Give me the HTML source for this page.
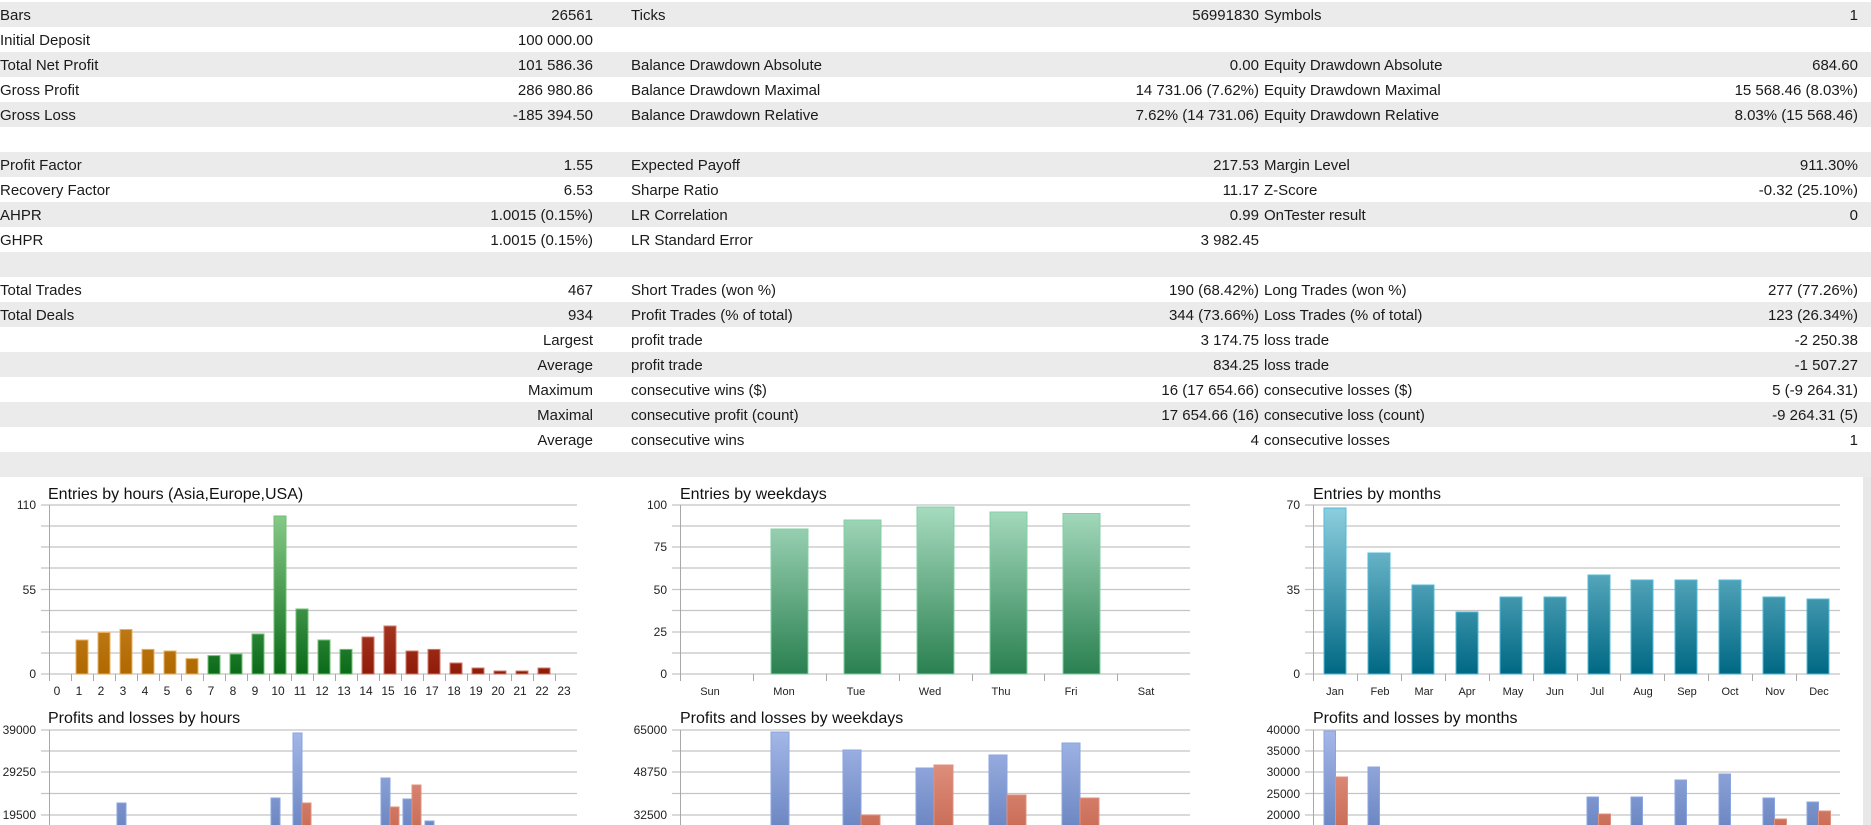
<!DOCTYPE html>
<html><head><meta charset="utf-8"><style>
body{margin:0;width:1871px;height:825px;overflow:hidden;background:#fff;font-family:"Liberation Sans",Arial,sans-serif;position:relative}
.r{position:absolute;left:0;width:1871px;height:25px;font-size:15px;color:#1a1a1a}
.r.g{background:#ebebeb}
.r span{position:absolute;top:5px;white-space:nowrap}
.a{left:0}.b{right:1278px}.c{left:631px}.d{right:612px}.e{left:1264px}.f{right:13px}
svg{position:absolute;left:0;top:0}
</style></head><body>
<div class="r g" style="top:2px"><span class="a">Bars</span><span class="b">26561</span><span class="c">Ticks</span><span class="d">56991830</span><span class="e">Symbols</span><span class="f">1</span></div>
<div class="r" style="top:27px"><span class="a">Initial Deposit</span><span class="b">100 000.00</span></div>
<div class="r g" style="top:52px"><span class="a">Total Net Profit</span><span class="b">101 586.36</span><span class="c">Balance Drawdown Absolute</span><span class="d">0.00</span><span class="e">Equity Drawdown Absolute</span><span class="f">684.60</span></div>
<div class="r" style="top:77px"><span class="a">Gross Profit</span><span class="b">286 980.86</span><span class="c">Balance Drawdown Maximal</span><span class="d">14 731.06 (7.62%)</span><span class="e">Equity Drawdown Maximal</span><span class="f">15 568.46 (8.03%)</span></div>
<div class="r g" style="top:102px"><span class="a">Gross Loss</span><span class="b">-185 394.50</span><span class="c">Balance Drawdown Relative</span><span class="d">7.62% (14 731.06)</span><span class="e">Equity Drawdown Relative</span><span class="f">8.03% (15 568.46)</span></div>
<div class="r" style="top:127px"></div>
<div class="r g" style="top:152px"><span class="a">Profit Factor</span><span class="b">1.55</span><span class="c">Expected Payoff</span><span class="d">217.53</span><span class="e">Margin Level</span><span class="f">911.30%</span></div>
<div class="r" style="top:177px"><span class="a">Recovery Factor</span><span class="b">6.53</span><span class="c">Sharpe Ratio</span><span class="d">11.17</span><span class="e">Z-Score</span><span class="f">-0.32 (25.10%)</span></div>
<div class="r g" style="top:202px"><span class="a">AHPR</span><span class="b">1.0015 (0.15%)</span><span class="c">LR Correlation</span><span class="d">0.99</span><span class="e">OnTester result</span><span class="f">0</span></div>
<div class="r" style="top:227px"><span class="a">GHPR</span><span class="b">1.0015 (0.15%)</span><span class="c">LR Standard Error</span><span class="d">3 982.45</span></div>
<div class="r g" style="top:252px"></div>
<div class="r" style="top:277px"><span class="a">Total Trades</span><span class="b">467</span><span class="c">Short Trades (won %)</span><span class="d">190 (68.42%)</span><span class="e">Long Trades (won %)</span><span class="f">277 (77.26%)</span></div>
<div class="r g" style="top:302px"><span class="a">Total Deals</span><span class="b">934</span><span class="c">Profit Trades (% of total)</span><span class="d">344 (73.66%)</span><span class="e">Loss Trades (% of total)</span><span class="f">123 (26.34%)</span></div>
<div class="r" style="top:327px"><span class="b">Largest</span><span class="c">profit trade</span><span class="d">3 174.75</span><span class="e">loss trade</span><span class="f">-2 250.38</span></div>
<div class="r g" style="top:352px"><span class="b">Average</span><span class="c">profit trade</span><span class="d">834.25</span><span class="e">loss trade</span><span class="f">-1 507.27</span></div>
<div class="r" style="top:377px"><span class="b">Maximum</span><span class="c">consecutive wins ($)</span><span class="d">16 (17 654.66)</span><span class="e">consecutive losses ($)</span><span class="f">5 (-9 264.31)</span></div>
<div class="r g" style="top:402px"><span class="b">Maximal</span><span class="c">consecutive profit (count)</span><span class="d">17 654.66 (16)</span><span class="e">consecutive loss (count)</span><span class="f">-9 264.31 (5)</span></div>
<div class="r" style="top:427px"><span class="b">Average</span><span class="c">consecutive wins</span><span class="d">4</span><span class="e">consecutive losses</span><span class="f">1</span></div>
<div class="r g" style="top:452px"></div>

<svg width="1871" height="825" viewBox="0 0 1871 825" font-family="Liberation Sans, Arial, sans-serif">
<defs>
<linearGradient id="go" gradientUnits="userSpaceOnUse" x1="0" y1="505" x2="0" y2="674"><stop offset="0" stop-color="#e0a850"/><stop offset="1" stop-color="#b06800"/></linearGradient>
<linearGradient id="gg" gradientUnits="userSpaceOnUse" x1="0" y1="505" x2="0" y2="674"><stop offset="0" stop-color="#90d090"/><stop offset="1" stop-color="#0a6a18"/></linearGradient>
<linearGradient id="gr" gradientUnits="userSpaceOnUse" x1="0" y1="505" x2="0" y2="674"><stop offset="0" stop-color="#d07060"/><stop offset="1" stop-color="#901c08"/></linearGradient>
<linearGradient id="gw" gradientUnits="userSpaceOnUse" x1="0" y1="505" x2="0" y2="674"><stop offset="0" stop-color="#a8dcc0"/><stop offset="1" stop-color="#2a8050"/></linearGradient>
<linearGradient id="gm" gradientUnits="userSpaceOnUse" x1="0" y1="505" x2="0" y2="674"><stop offset="0" stop-color="#8fd0e0"/><stop offset="1" stop-color="#006884"/></linearGradient>
<linearGradient id="gb" gradientUnits="userSpaceOnUse" x1="0" y1="730" x2="0" y2="860"><stop offset="0" stop-color="#a4b8e8"/><stop offset="1" stop-color="#5a76b6"/></linearGradient>
<linearGradient id="gl" gradientUnits="userSpaceOnUse" x1="0" y1="730" x2="0" y2="860"><stop offset="0" stop-color="#e8a090"/><stop offset="1" stop-color="#c05c44"/></linearGradient>
</defs>
<rect x="1863" y="477" width="8" height="348" fill="#e8e8e8"/>
<g stroke="#c4c4c4" stroke-width="1.2" fill="none">
<path d="M41 505H577M41 526H577M41 547H577M41 568H577M41 589.5H577M41 610.5H577M41 632H577M41 653H577M41 674H577"/>
<path d="M672 505H1190M672 526H1190M672 547H1190M672 568H1190M672 589.5H1190M672 610.5H1190M672 632H1190M672 653H1190M672 674H1190"/>
<path d="M1305 505H1840M1305 526H1840M1305 547H1840M1305 568H1840M1305 589.5H1840M1305 610.5H1840M1305 632H1840M1305 653H1840M1305 674H1840"/>
<path d="M41 730H577M41 751H577M41 772H577M41 793.5H577M41 815H577"/>
<path d="M672 730H1190M672 751H1190M672 772H1190M672 793.5H1190M672 815H1190"/>
<path d="M1305 730H1840M1305 751H1840M1305 772H1840M1305 793.5H1840M1305 815H1840"/>
</g>
<g stroke="#a8a8a8" stroke-width="1">
<path d="M49.5 505V681M49.5 730V825M680.5 505V681M680.5 730V825M1313.5 505V681M1313.5 730V825"/>
<path d="M71.5 674v7M93.5 674v7M115.5 674v7M137.5 674v7M159.5 674v7M181.5 674v7M203.5 674v7M225.5 674v7M247.5 674v7M269.5 674v7M291.5 674v7M313.5 674v7M335.5 674v7M357.5 674v7M379.5 674v7M401.5 674v7M423.5 674v7M445.5 674v7M467.5 674v7M489.5 674v7M511.5 674v7M533.5 674v7M555.5 674v7"/>
<path d="M753.5 674v7M826.5 674v7M899.5 674v7M972.5 674v7M1044.5 674v7M1117.5 674v7"/>
<path d="M1357.5 674v7M1401.5 674v7M1445.5 674v7M1489.5 674v7M1533.5 674v7M1577.5 674v7M1620.5 674v7M1664.5 674v7M1708.5 674v7M1752.5 674v7M1796.5 674v7"/>
</g>
<g font-size="16" fill="#111">
<text x="48" y="499">Entries by hours (Asia,Europe,USA)</text>
<text x="680" y="499">Entries by weekdays</text>
<text x="1313" y="499">Entries by months</text>
<text x="48" y="723">Profits and losses by hours</text>
<text x="680" y="723">Profits and losses by weekdays</text>
<text x="1313" y="723">Profits and losses by months</text>
</g>
<g font-size="12" fill="#222" text-anchor="end">
<text x="36" y="509">110</text><text x="36" y="594">55</text><text x="36" y="678">0</text>
<text x="667" y="509">100</text><text x="667" y="551">75</text><text x="667" y="594">50</text><text x="667" y="636">25</text><text x="667" y="678">0</text>
<text x="1300" y="509">70</text><text x="1300" y="594">35</text><text x="1300" y="678">0</text>
<text x="36" y="734">39000</text><text x="36" y="776">29250</text><text x="36" y="819">19500</text>
<text x="667" y="734">65000</text><text x="667" y="776">48750</text><text x="667" y="819">32500</text>
<text x="1300" y="734">40000</text><text x="1300" y="755">35000</text><text x="1300" y="776">30000</text><text x="1300" y="798">25000</text><text x="1300" y="819">20000</text>
</g>
<g font-size="12" fill="#222" text-anchor="middle">
<text x="57" y="695">0</text><text x="79" y="695">1</text><text x="101" y="695">2</text><text x="123" y="695">3</text><text x="145" y="695">4</text><text x="167" y="695">5</text><text x="189" y="695">6</text><text x="211" y="695">7</text><text x="233" y="695">8</text><text x="255" y="695">9</text><text x="278" y="695">10</text><text x="300" y="695">11</text><text x="322" y="695">12</text><text x="344" y="695">13</text><text x="366" y="695">14</text><text x="388" y="695">15</text><text x="410" y="695">16</text><text x="432" y="695">17</text><text x="454" y="695">18</text><text x="476" y="695">19</text><text x="498" y="695">20</text><text x="520" y="695">21</text><text x="542" y="695">22</text><text x="564" y="695">23</text>
<text x="710" y="695" font-size="11">Sun</text><text x="784" y="695" font-size="11">Mon</text><text x="856" y="695" font-size="11">Tue</text><text x="930" y="695" font-size="11">Wed</text><text x="1001" y="695" font-size="11">Thu</text><text x="1071" y="695" font-size="11">Fri</text><text x="1146" y="695" font-size="11">Sat</text>
<text x="1335" y="695" font-size="11">Jan</text><text x="1380" y="695" font-size="11">Feb</text><text x="1424" y="695" font-size="11">Mar</text><text x="1467" y="695" font-size="11">Apr</text><text x="1513" y="695" font-size="11">May</text><text x="1555" y="695" font-size="11">Jun</text><text x="1597" y="695" font-size="11">Jul</text><text x="1643" y="695" font-size="11">Aug</text><text x="1687" y="695" font-size="11">Sep</text><text x="1730" y="695" font-size="11">Oct</text><text x="1775" y="695" font-size="11">Nov</text><text x="1819" y="695" font-size="11">Dec</text>
</g>
<g stroke="#e8b060" stroke-width="1" fill="url(#go)">
<rect x="76" y="640" width="12" height="34"/><rect x="98" y="632.5" width="12" height="41.5"/><rect x="120" y="629.5" width="12" height="44.5"/><rect x="142" y="649.4" width="12" height="24.6"/><rect x="164" y="651" width="12" height="23"/><rect x="186" y="658.6" width="12" height="15.4"/>
</g>
<g stroke="#70c070" stroke-width="1" fill="url(#gg)">
<rect x="208" y="655.6" width="12" height="18.4"/><rect x="230" y="654" width="12" height="20"/><rect x="252" y="634" width="12" height="40"/><rect x="274" y="516" width="12" height="158"/><rect x="296" y="609" width="12" height="65"/><rect x="318" y="640" width="12" height="34"/><rect x="340" y="649.4" width="12" height="24.6"/>
</g>
<g stroke="#d07a6a" stroke-width="1" fill="url(#gr)">
<rect x="362" y="637" width="12" height="37"/><rect x="384" y="626" width="12" height="48"/><rect x="406" y="651" width="12" height="23"/><rect x="428" y="649.4" width="12" height="24.6"/><rect x="450" y="663" width="12" height="11"/><rect x="472" y="668" width="12" height="6"/><rect x="494" y="671" width="12" height="3"/><rect x="516" y="671" width="12" height="3"/><rect x="538" y="668" width="12" height="6"/>
</g>
<g stroke="#80d0a4" stroke-width="1" fill="url(#gw)">
<rect x="771" y="529" width="37" height="145"/><rect x="844" y="520" width="37" height="154"/><rect x="917" y="507" width="37" height="167"/><rect x="990" y="512" width="37" height="162"/><rect x="1063" y="513.5" width="37" height="160.5"/>
</g>
<g stroke="#50bcd8" stroke-width="1" fill="url(#gm)">
<rect x="1324" y="508" width="22" height="166"/><rect x="1368" y="553" width="22" height="121"/><rect x="1412" y="585" width="22" height="89"/><rect x="1456" y="612" width="22" height="62"/><rect x="1500" y="597" width="22" height="77"/><rect x="1544" y="597" width="22" height="77"/><rect x="1588" y="575" width="22" height="99"/><rect x="1631" y="580" width="22" height="94"/><rect x="1675" y="580" width="22" height="94"/><rect x="1719" y="580" width="22" height="94"/><rect x="1763" y="597" width="22" height="77"/><rect x="1807" y="599" width="22" height="75"/>
</g>
<g stroke="#8aa4e0" stroke-width="1" fill="url(#gb)">
<rect x="117" y="803" width="9" height="40"/><rect x="271" y="798" width="9" height="40"/><rect x="293" y="733" width="9" height="110"/><rect x="381" y="778" width="9" height="60"/><rect x="403" y="799" width="9" height="40"/><rect x="425" y="821" width="9" height="20"/>
<rect x="771" y="732" width="18" height="110"/><rect x="843" y="750" width="18" height="90"/><rect x="916" y="768" width="18" height="70"/><rect x="989" y="755" width="18" height="80"/><rect x="1062" y="743" width="18" height="90"/>
<rect x="1324" y="731" width="11.5" height="110"/><rect x="1368" y="767" width="11.5" height="70"/><rect x="1587" y="797" width="11.5" height="40"/><rect x="1631" y="797" width="11.5" height="40"/><rect x="1675" y="780" width="11.5" height="60"/><rect x="1719" y="774" width="11.5" height="60"/><rect x="1763" y="798" width="11.5" height="40"/><rect x="1807" y="802" width="11.5" height="40"/>
</g>
<g stroke="#e09080" stroke-width="1" fill="url(#gl)">
<rect x="302" y="803" width="9" height="40"/><rect x="390" y="807" width="9" height="40"/><rect x="412" y="785" width="9" height="50"/>
<rect x="861" y="815" width="19" height="30"/><rect x="934" y="765" width="19" height="70"/><rect x="1007" y="795" width="19" height="40"/><rect x="1080" y="798" width="19" height="40"/>
<rect x="1335.5" y="777" width="12" height="60"/><rect x="1598.5" y="814" width="12" height="30"/><rect x="1774.5" y="819" width="12" height="20"/><rect x="1818.5" y="811" width="12" height="30"/>
</g>
</svg>
</body></html>
